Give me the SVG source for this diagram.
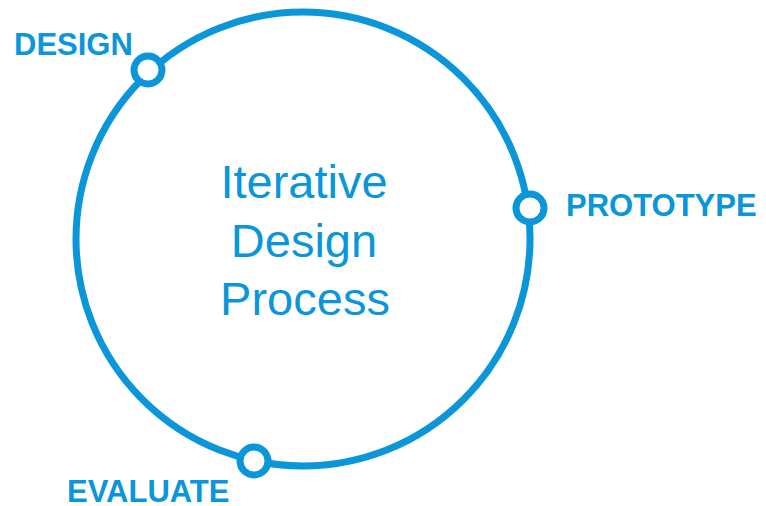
<svg xmlns="http://www.w3.org/2000/svg" width="766" height="506" viewBox="0 0 766 506">
<style>
.ring{fill:none;stroke:#0A96D9;stroke-width:7}
.dot{fill:#fff;stroke:#0A96D9;stroke-width:7}
.lbl{font-family:"Liberation Sans",Arial,sans-serif;font-weight:bold;font-size:31px;fill:#0A96D9}
.title{font-family:"Liberation Sans",Arial,sans-serif;font-size:47px;fill:#0A96D9;text-anchor:middle}
</style>
<rect width="766" height="506" fill="#fff"/>
<g id="connectors">
<circle class="ring" cx="303" cy="239" r="227"/>
</g>
<g id="title">
<text class="title" x="304" y="198">Iterative</text>
<text class="title" x="304" y="257">Design</text>
<text class="title" x="305" y="315">Process</text>
</g>
<g id="design">
<circle class="dot" cx="148" cy="70" r="14"/>
<text class="lbl" x="14" y="55">DESIGN</text>
</g>
<g id="prototype">
<circle class="dot" cx="530" cy="208" r="14"/>
<text class="lbl" x="566" y="216">PROTOTYPE</text>
</g>
<g id="evaluate">
<circle class="dot" cx="254" cy="461" r="14"/>
<text class="lbl" x="67" y="502">EVALUATE</text>
</g>
</svg>
